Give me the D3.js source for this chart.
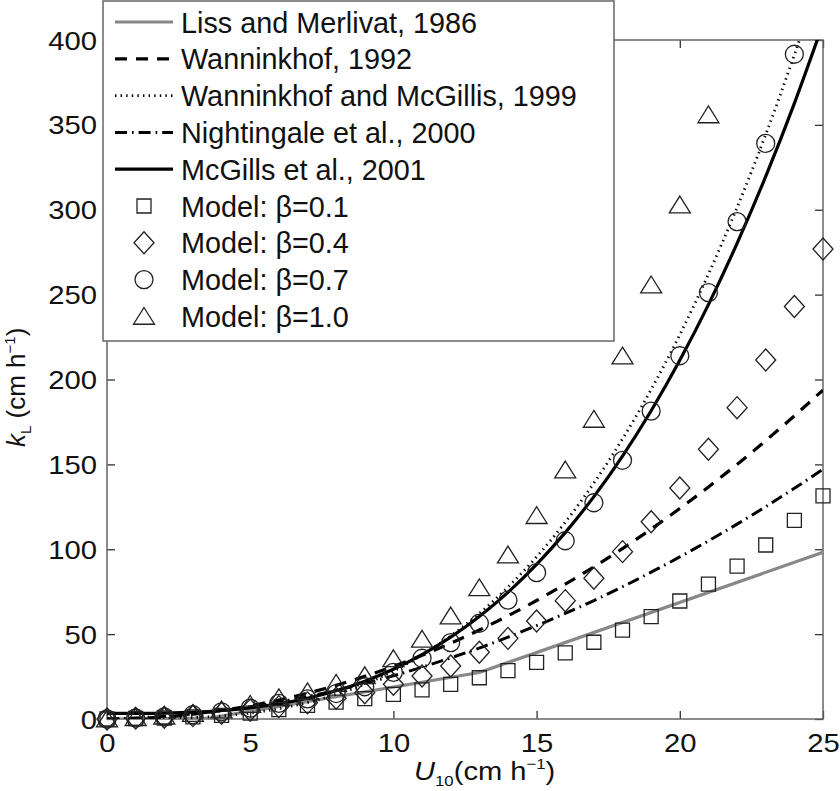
<!DOCTYPE html>
<html>
<head>
<meta charset="utf-8">
<script src="https://cdn.jsdelivr.net/npm/d3@7"></script>
<style>
body { margin: 0; background: #fff; }
text { font-family: "Liberation Sans", Arial, sans-serif; fill: #111; }
</style>
</head>
<body>
<div id="chart"></div>
<script>
// wind speed U10 at which curves and model points were read
const windSpeed = [0,1,2,3,4,5,6,7,8,9,10,11,12,13,14,15,16,17,18,19,20,21,22,23,24,25];

// parameterisations (kL, cm/h)
const lissU = [0, 3.6, 13, 25];
const lissK = [0, 0.6, 27.4, 98.2];
const wann92 = [0,0.3,1.2,2.8,5.0,7.8,11.2,15.2,19.8,25.1,31.0,37.5,44.6,52.4,60.8,69.8,79.4,89.6,100.4,111.9,124.0,136.7,150.0,164.0,178.6,193.8];
const wannMcG99 = [0,0.03,0.2,0.8,1.8,3.5,6.1,9.7,14.5,20.6,28.3,37.7,48.9,62.2,77.7,95.5,115.9,139.0,165.0,194.1,226.4,262.1,301.3,344.3,391.2,442.2];
const night00 = [0,0.6,1.6,3.0,4.9,7.2,10.0,13.2,16.9,21.0,25.5,30.5,36.0,41.8,48.2,55.0,62.2,69.8,77.9,86.5,95.5,104.9,114.8,125.1,135.9,147.1];
const mcg01 = [3.3,3.3,3.5,4.0,5.0,6.6,8.9,12.2,16.6,22.3,29.3,37.9,48.2,60.4,74.6,91.1,109.8,131.0,154.9,181.6,211.3,244.1,280.2,319.6,362.7,409.6];

// model points
const beta01 = [0,0.3,0.6,1.2,2.1,3.5,5.5,8.0,10.0,12.0,14.5,17.1,20.4,24.3,28.5,33.4,39.0,45.2,52.4,60.3,69.5,79.5,90.1,102.5,117.0,131.4];
const beta04 = [0,0.5,1.0,2.0,3.3,5.2,7.3,9.5,12.2,15.5,20.5,25.3,31.2,39.3,47.5,57.7,69.7,82.9,98.6,116.2,136.1,158.9,183.4,211.5,243.0,276.9];
const beta07 = [0,0.6,1.3,2.5,4.2,6.4,9.2,11.8,15.0,19.0,27.5,35.8,45.0,56.4,70.0,86.2,105.0,127.4,152.4,181.4,214.0,251.2,293.0,339.1,391.6];
const beta10 = [0,0.8,1.7,3.2,5.3,8.6,12.5,16.0,21.0,25.5,35.5,47.0,60.7,77.3,96.6,119.8,146.7,176.5,213.8,255.7,302.8,355.9];

const xTicks = [0,5,10,15,20,25];
const yTicks = [0,50,100,150,200,250,300,350,400];

const W = 840, H = 791;
const plot = {l:107, r:823, t:40, b:719};
const stretch = 1.17; // tick labels are wider than they are tall

const svg = d3.select('#chart').append('svg')
	.attr('width', W)
	.attr('height', H);

const x = d3.scaleLinear().domain([0,25]).range([plot.l, plot.r]);
const y = d3.scaleLinear().domain([0,400]).range([plot.b, plot.t]);

svg.append('clipPath').attr('id','plotclip')
	.append('rect')
	.attr('x', plot.l).attr('y', plot.t)
	.attr('width', plot.r-plot.l).attr('height', plot.b-plot.t);

// axes, ticks pointing inwards on all four sides
svg.append('g')
	.attr('transform', 'translate(0,'+plot.b+')')
	.call(d3.axisBottom(x).tickValues(xTicks).tickSize(-8).tickSizeOuter(0).tickPadding(14))
	.call(g => g.select('.domain').remove());
svg.append('g')
	.attr('transform', 'translate(0,'+plot.t+')')
	.call(d3.axisTop(x).tickValues(xTicks).tickSize(-8).tickSizeOuter(0).tickFormat(''))
	.call(g => g.select('.domain').remove());
svg.append('g')
	.attr('transform', 'translate('+plot.l+',0)')
	.call(d3.axisLeft(y).tickValues(yTicks).tickSize(-8).tickSizeOuter(0).tickPadding(10))
	.call(g => g.select('.domain').remove());
svg.append('g')
	.attr('transform', 'translate('+plot.r+',0)')
	.call(d3.axisRight(y).tickValues(yTicks).tickSize(-8).tickSizeOuter(0).tickFormat(''))
	.call(g => g.select('.domain').remove());

svg.selectAll('.tick line').attr('stroke', '#333').attr('stroke-width', 1.3);
svg.selectAll('.tick text')
	.attr('font-size', 25)
	.attr('font-family', '"Liberation Sans", Arial, sans-serif')
	.attr('fill', '#111')
	.each(function() {
		const t = d3.select(this);
		const tx = +t.attr('x') || 0, ty = +t.attr('y') || 0;
		t.attr('x', 0).attr('y', 0)
			.attr('transform', 'translate('+tx+','+(ty+1)+') scale('+stretch+',1)');
	});

svg.append('rect')
	.attr('x', plot.l).attr('y', plot.t)
	.attr('width', plot.r-plot.l).attr('height', plot.b-plot.t)
	.attr('fill', 'none')
	.attr('stroke', '#666')
	.attr('stroke-width', 1.5);

// line styles
const styles = [
	{name:'Liss and Merlivat, 1986', color:'#888', width:3.2, dash:null},
	{name:'Wanninkhof, 1992', color:'#000', width:3.2, dash:'12,9'},
	{name:'Wanninkhof and McGillis, 1999', color:'#000', width:2.8, dash:'1.4,4.2'},
	{name:'Nightingale et al., 2000', color:'#000', width:3, dash:'12,5,1.6,5'},
	{name:'McGills et al., 2001', color:'#000', width:3.2, dash:null}
];

const line = d3.line().x(d=>x(d[0])).y(d=>y(d[1])).curve(d3.curveMonotoneX);
const lineSeries = [
	d3.zip(lissU, lissK),
	d3.zip(windSpeed, wann92),
	d3.zip(windSpeed, wannMcG99),
	d3.zip(windSpeed, night00),
	d3.zip(windSpeed, mcg01)
];

const lines = svg.append('g').attr('clip-path', 'url(#plotclip)');
lineSeries.forEach((pts, i) => {
	lines.append('path')
		.datum(pts)
		.attr('d', i === 0 ? d3.line().x(d=>x(d[0])).y(d=>y(d[1]))(pts) : line(pts))
		.attr('fill', 'none')
		.attr('stroke', styles[i].color)
		.attr('stroke-width', styles[i].width)
		.attr('stroke-dasharray', styles[i].dash);
});

// marker shapes as custom d3 symbol types, size = half width
const square = {draw(c, s) { c.rect(-s, -s, 2*s, 2*s); }};
const diamond = {draw(c, s) { c.moveTo(0,-s*1.1); c.lineTo(s,0); c.lineTo(0,s*1.1); c.lineTo(-s,0); c.closePath(); }};
const circle = {draw(c, s) { c.moveTo(s,0); c.arc(0,0,s,0,2*Math.PI); }};
const triangle = {draw(c, s) { c.moveTo(0,-s*0.85); c.lineTo(s,s*0.75); c.lineTo(-s,s*0.75); c.closePath(); }};

const markers = [
	{name:'Model: \u03b2=0.1', type:square, size:7, data:beta01},
	{name:'Model: \u03b2=0.4', type:diamond, size:10, data:beta04},
	{name:'Model: \u03b2=0.7', type:circle, size:9, data:beta07},
	{name:'Model: \u03b2=1.0', type:triangle, size:10.5, data:beta10}
];

markers.forEach(m => {
	svg.append('g')
		.selectAll('path')
		.data(m.data)
		.enter()
		.append('path')
			.attr('transform', (d,i)=>'translate('+x(windSpeed[i])+','+y(d)+')')
			.attr('d', d3.symbol().type(m.type).size(m.size))
			.attr('fill', 'none')
			.attr('stroke', '#222')
			.attr('stroke-width', 1.3);
});

// legend
const lg = svg.append('g');
lg.append('rect')
	.attr('x', 103).attr('y', 1)
	.attr('width', 511).attr('height', 340)
	.attr('fill', '#fff')
	.attr('stroke', '#666')
	.attr('stroke-width', 1.5);

const rowY = i => 22 + i*36.8;
styles.forEach((s, i) => {
	lg.append('line')
		.attr('x1', 115).attr('x2', 173)
		.attr('y1', rowY(i)).attr('y2', rowY(i))
		.attr('stroke', s.color)
		.attr('stroke-width', s.width)
		.attr('stroke-dasharray', s.dash);
	lg.append('text')
		.attr('x', 181).attr('y', rowY(i)+10.5)
		.attr('font-size', 28.8)
		.text(s.name);
});
markers.forEach((m, j) => {
	const i = j + 5;
	lg.append('path')
		.attr('transform', 'translate(144,'+rowY(i)+')')
		.attr('d', d3.symbol().type(m.type).size(m.size))
		.attr('fill', 'none')
		.attr('stroke', '#222')
		.attr('stroke-width', 1.3);
	lg.append('text')
		.attr('x', 181).attr('y', rowY(i)+10.5)
		.attr('font-size', 28.8)
		.text(m.name);
});

// axis labels
const xl = svg.append('text')
	.attr('transform', 'translate(414,780) scale(1.12,1)')
	.attr('font-size', 26);
xl.append('tspan').attr('font-style', 'italic').text('U');
xl.append('tspan').attr('font-size', 15).attr('dy', 6).text('10');
xl.append('tspan').attr('dy', -6).text('(cm h');
xl.append('tspan').attr('font-size', 15).attr('dy', -11).text('\u22121');
xl.append('tspan').attr('dy', 11).text(')');

const yl = svg.append('text')
	.attr('transform', 'translate(25,447) rotate(-90)')
	.attr('font-size', 26);
yl.append('tspan').attr('font-style', 'italic').text('k');
yl.append('tspan').attr('font-size', 15).attr('dy', 6).text('L');
yl.append('tspan').attr('dy', -6).text(' (cm h');
yl.append('tspan').attr('font-size', 15).attr('dy', -10).text('\u22121');
yl.append('tspan').attr('dy', 10).text(')');
</script>
</body>
</html>
